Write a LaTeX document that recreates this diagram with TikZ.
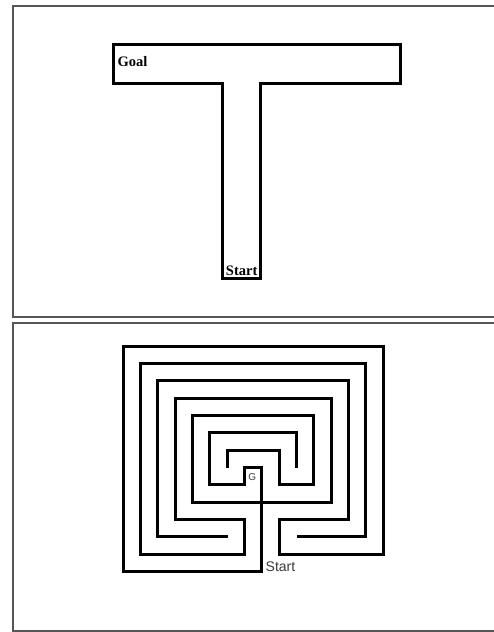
\documentclass[tikz,border=0pt]{standalone}
\usepackage{fontspec}
\setmainfont{Liberation Serif}
\newfontfamily\lsans{Liberation Sans}
\begin{document}
\begin{tikzpicture}[x=1pt,y=-1pt,
  frame/.style={draw={rgb,255:red,85;green,85;blue,85},line width=2pt},
  wall/.style={draw=black,line width=3pt,line join=miter,line cap=butt},
  lbl/.style={inner sep=0pt,font=\bfseries\fontsize{14.5}{14.5}\selectfont},
  slbl/.style={inner sep=0pt,text={rgb,255:red,60;green,60;blue,60}}]
\useasboundingbox (0,0) rectangle (494,632);
\begin{scope}
\clip (0,0) rectangle (494,632);
\draw[frame] (13,6) rectangle (505,316.5);
\draw[frame] (13,322.5) rectangle (505,631);
\end{scope}
% T maze
\draw[wall] (113,44) -- (400,44) -- (400,83) -- (260.7,83) -- (260.7,278)
  -- (222.7,278) -- (222.7,83) -- (113,83) -- cycle;
\node[lbl,anchor=base west] (goal) at (117.5,66.5) {Goal};
\node[lbl,anchor=base] (start1) at (241.7,275.5) {Start};
% labyrinth
\begin{scope}[shift={(123.3pt,-346pt)},x=17.33pt,y=-17.36pt]
\draw[wall] (10,7.05) -- (10,5) -- (5,5) -- (5,8) -- (7,8) -- (7,7) -- (8,7)
  -- (8,13) -- (0,13) -- (0,0) -- (15,0) -- (15,12) -- (9,12) -- (9,10)
  -- (13,10) -- (13,2) -- (2,2) -- (2,11) -- (6.05,11);
\draw[wall] (6,7.05) -- (6,6) -- (9,6) -- (9,8) -- (11,8) -- (11,4) -- (4,4)
  -- (4,9) -- (12,9) -- (12,3) -- (3,3) -- (3,10) -- (7,10) -- (7,12)
  -- (1,12) -- (1,1) -- (14,1) -- (14,11) -- (10,11);
\end{scope}
\node[slbl,font=\lsans\fontsize{10}{10}\selectfont] (g) at (252.3,477.5) {G};
\node[slbl,anchor=base west,font=\lsans\fontsize{14}{14}\selectfont] (start2) at (265.5,571) {Start};
\end{tikzpicture}
\end{document}
